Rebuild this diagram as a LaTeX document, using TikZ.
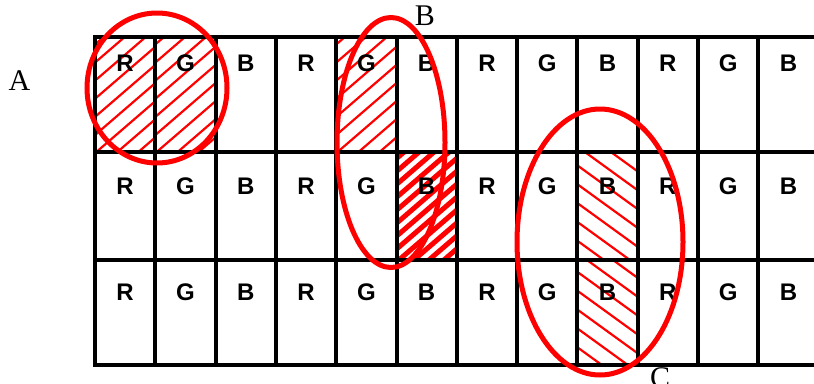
\documentclass[tikz,border=0pt]{standalone}
\usepackage{fontspec}
\setmainfont{Liberation Serif}
\setsansfont{Liberation Sans}
\newcommand{\hatchcell}[8]{%
  \begin{scope}
    \clip (#1,#2) rectangle (#3,#4);
    \foreach \k in {0,...,24}
      \draw[#8] ({#1-100+\k*#5-#6},{(#2+#4)/2-#7}) -- ++({2*#6},{2*#7});
  \end{scope}}
\begin{document}
\begin{tikzpicture}[x=1pt,y=-1pt,
  gridline/.style={line width=4pt},
  cellletter/.style={font=\sffamily\bfseries\fontsize{24}{24}\selectfont, inner sep=0pt},
  tag/.style={font=\fontsize{30}{30}\selectfont, inner sep=0pt},
  ring/.style={draw=red, line width=5pt},
  thinhatch/.style={red, line width=2.2pt},
  densehatch/.style={red, line width=5pt},
]
\useasboundingbox (0,0) rectangle (814,383);
% hatching
\hatchcell{95}{37}{155.3}{152}{21}{80}{-69}{thinhatch}
\hatchcell{155.3}{37}{215.6}{152}{21}{80}{-69}{thinhatch}
\hatchcell{336.2}{37}{396.5}{152}{21}{80}{-69}{thinhatch}
\hatchcell{396.5}{152}{456.8}{260}{15}{80}{-69}{densehatch}
\hatchcell{577.4}{152}{637.7}{260}{26}{80}{58}{thinhatch}
\hatchcell{577.4}{260}{637.7}{365}{26}{80}{58}{thinhatch}
% grid
\foreach \i in {0,...,11}
  \draw[gridline] ({95+60.3*\i},37) -- ({95+60.3*\i},365);
\foreach \y in {37,152,260,365}
  \draw[gridline] (93,\y) -- (820,\y);
% letters
\foreach \r/\y in {0/63,1/186,2/292}
  \foreach \c/\t in {0/R,1/G,2/B,3/R,4/G,5/B,6/R,7/G,8/B,9/R,10/G,11/B}
    \node[cellletter] (l\r-\c) at ({95+60.3*(\c+0.5)},\y) {\t};
% rings
\draw[ring] (157,88) ellipse [x radius=70, y radius=75];
\draw[ring] (391,142.5) ellipse [x radius=54, y radius=125];
\draw[ring] (600,242) ellipse [x radius=83, y radius=133];
% tags
\node[tag] (A) at (19.5,80.5) {A};
\node[tag] (B) at (425,16) {B};
\node[tag] (C) at (660,378) {C};
\end{tikzpicture}
\end{document}
